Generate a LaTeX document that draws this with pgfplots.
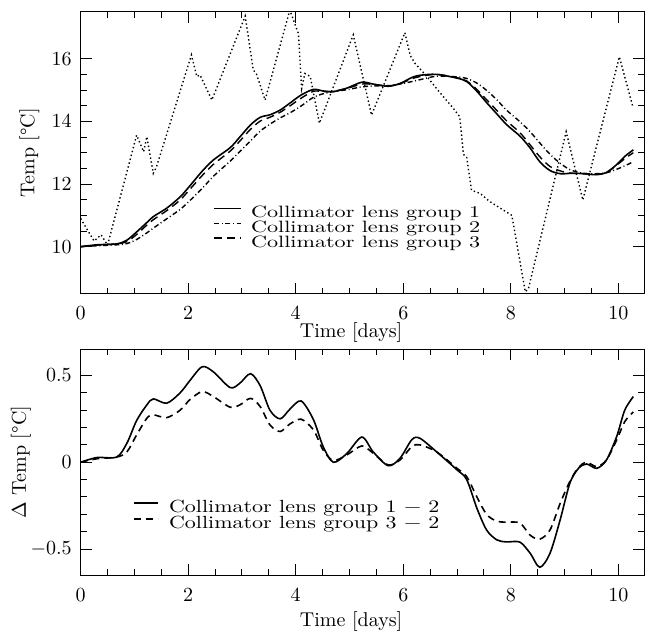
\documentclass[border=0pt]{standalone}
\usepackage{fontspec}
\usepackage{pgfplots}
\usepackage{pgfplotstable}
\pgfplotsset{compat=1.18}
\newfontfamily\legA{lmroman10-regular}[Extension=.otf,FakeStretch=1.35]
\newfontfamily\legB{lmroman10-regular}[Extension=.otf,FakeStretch=1.25]

% lens group temperatures and differences to group 2
\pgfplotstableread{
t     g1    g2    g3     d12    d32
0     10.00 10.00 10.00  0.000  0.000
0.30  10.06 10.03 10.05  0.027  0.020
0.67  10.09 10.06 10.09  0.030  0.030
0.86  10.21 10.10 10.16  0.110  0.060
1.04  10.47 10.23 10.39  0.240  0.157
1.23  10.77 10.44 10.69  0.330  0.253
1.35  10.96 10.59 10.86  0.365  0.273
1.60  11.23 10.89 11.15  0.340  0.257
1.85  11.59 11.19 11.49  0.400  0.300
2.03  11.94 11.47 11.83  0.470  0.360
2.26  12.41 11.86 12.27  0.550  0.407
2.47  12.77 12.25 12.63  0.520  0.378
2.78  13.16 12.73 13.05  0.430  0.317
2.96  13.50 13.04 13.37  0.455  0.330
3.16  13.89 13.38 13.75  0.510  0.368
3.34  14.13 13.69 14.01  0.440  0.320
3.52  14.21 13.91 14.13  0.300  0.215
3.71  14.36 14.11 14.29  0.250  0.177
3.89  14.58 14.27 14.49  0.305  0.220
4.10  14.84 14.49 14.74  0.353  0.248
4.33  15.02 14.77 14.96  0.245  0.186
4.51  14.97 14.88 14.95  0.090  0.070
4.70  14.95 14.95 14.96  0.000  0.010
4.95  15.06 15.01 15.05  0.050  0.042
5.23  15.25 15.10 15.19  0.145  0.094
5.44  15.19 15.13 15.18  0.060  0.052
5.72  15.12 15.14 15.13 -0.020 -0.015
5.94  15.21 15.19 15.20  0.023  0.013
6.16  15.40 15.27 15.36  0.130  0.090
6.31  15.47 15.33 15.43  0.138  0.100
6.62  15.50 15.44 15.50  0.060  0.060
7.00  15.38 15.42 15.39 -0.044 -0.035
7.18  15.27 15.37 15.29 -0.100 -0.083
7.37  14.96 15.22 15.02 -0.265 -0.200
7.55  14.60 14.99 14.69 -0.390 -0.300
7.74  14.24 14.69 14.35 -0.447 -0.340
7.92  13.90 14.36 14.02 -0.459 -0.345
8.17  13.53 13.99 13.64 -0.460 -0.350
8.36  13.15 13.67 13.25 -0.524 -0.420
8.54  12.71 13.31 12.87 -0.605 -0.443
8.73  12.43 12.95 12.56 -0.524 -0.390
8.92  12.33 12.66 12.42 -0.330 -0.236
9.10  12.34 12.46 12.35 -0.120 -0.110
9.26  12.34 12.37 12.34 -0.035 -0.030
9.41  12.32 12.33 12.33 -0.010  0.000
9.60  12.30 12.33 12.31 -0.035 -0.025
9.78  12.37 12.36 12.37  0.013  0.013
9.97  12.62 12.47 12.60  0.148  0.128
10.12 12.88 12.58 12.81  0.300  0.234
10.28 13.09 12.71 13.00  0.378  0.290
}\lens

\pgfplotsset{
  panel/.style={
    scale only axis, width=281.7pt, xmin=0, xmax=10.48,
    xtick={0,2,...,10}, minor x tick num=3,
    tick align=inside, major tick length=5.5pt, minor tick length=3pt,
    axis line style={line width=0.5pt},
    every tick/.style={black, line width=0.5pt},
    tick label style={font=\fontsize{10}{12}\selectfont},
    xticklabel style={yshift=-3pt},
    yticklabel style={xshift=-1pt},
    label style={font=\fontsize{10}{12}\selectfont},
    xlabel={Time [days]},
    legend cell align=left,
  },
}

\begin{document}
\begin{tikzpicture}
\useasboundingbox (0,0) rectangle (322.5pt,315.5pt);

\begin{axis}[panel, at={(40.35pt,168.65pt)}, anchor=south west, height=141pt,
  ymin=8.5, ymax=17.5, ytick={10,12,14,16}, minor y tick num=3,
  ylabel={Temp [\textdegree C]},
  xlabel style={at={(axis description cs:0.48,-0.137)}, anchor=center},
  ylabel style={at={(axis description cs:-0.091,0.5)}, anchor=center},
  legend image code/.code={\draw[#1] (0pt,2.6pt) -- (13.5pt,2.6pt);},
  legend style={draw=none, fill=none, inner sep=0pt, row sep=0pt, column sep=4.5pt,
    at={(0.235,0.311)}, anchor=north west,
    nodes={inner sep=0pt, text height=5.7pt, text depth=1.7pt,
           font=\legA\fontsize{8.2}{8.2}\selectfont}},
]
\addplot[black, line width=0.8pt, smooth] table[x=t, y=g1] {\lens};
\addlegendentry{Collimator lens group 1}
\addplot[black, line width=0.7pt, smooth, dash pattern=on 2.5pt off 1.3pt on 0.5pt off 1.3pt] table[x=t, y=g2] {\lens};
\addlegendentry{Collimator lens group 2}
\addplot[black, line width=0.7pt, smooth, dash pattern=on 4pt off 2.5pt] table[x=t, y=g3] {\lens};
\addlegendentry{Collimator lens group 3}
\addplot[black, line width=0.7pt, dash pattern=on 0.7pt off 1.3pt, forget plot] coordinates {
(0,10.9) (0.12,10.55) (0.25,10.18) (0.38,10.38) (0.5,10.05) (1.04,13.56) (1.17,13.03)
(1.23,13.51) (1.35,12.34) (1.41,12.55) (2.06,16.12) (2.16,15.43) (2.22,15.48) (2.44,14.68)
(3.06,17.36) (3.21,15.64) (3.27,15.51) (3.43,14.68) (3.89,17.55) (4.05,16.8) (4.11,15.05)
(4.17,15.53) (4.27,15.43) (4.44,13.94) (5.07,16.76) (5.41,14.2) (6.03,16.83) (6.13,16.1)
(6.22,15.85) (6.44,15.43) (6.69,14.9) (6.93,14.42) (7.05,14.15) (7.12,12.95) (7.18,12.85)
(7.27,11.8) (7.43,11.7) (7.61,11.44) (7.86,11.17) (8.02,11.0) (8.27,8.56) (8.33,8.67)
(9.03,13.67) (9.34,11.49) (10.02,16.06) (10.27,14.47)};
\end{axis}

\begin{axis}[panel, at={(40.35pt,27.95pt)}, anchor=south west, height=112.85pt,
  ymin=-0.65, ymax=0.65, ytick={-0.5,0,0.5}, minor y tick num=4,
  ylabel={$\Delta$ Temp [\textdegree C]},
  xlabel style={at={(axis description cs:0.48,-0.205)}, anchor=center},
  ylabel style={at={(axis description cs:-0.106,0.5)}, anchor=center},
  legend image code/.code={\draw[#1] (0pt,2.9pt) -- (12pt,2.9pt);},
  legend style={draw=none, fill=none, inner sep=0pt, row sep=0pt, column sep=5pt,
    at={(0.093,0.332)}, anchor=north west,
    nodes={inner sep=0pt, text height=6.2pt, text depth=1.8pt,
           font=\legB\fontsize{8.8}{8.8}\selectfont}},
]
\addplot[black, line width=0.8pt, smooth] table[x=t, y=d12] {\lens};
\addlegendentry{Collimator lens group 1 \textminus{} 2}
\addplot[black, line width=0.8pt, smooth, dash pattern=on 3.5pt off 2.5pt] table[x=t, y=d32] {\lens};
\addlegendentry{Collimator lens group 3 \textminus{} 2}
\end{axis}
\end{tikzpicture}
\end{document}
